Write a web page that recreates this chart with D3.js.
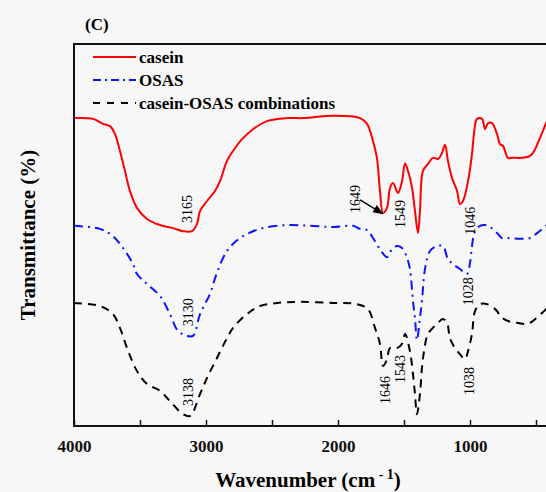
<!DOCTYPE html>
<html>
<head>
<meta charset="utf-8">
<script src="https://cdn.jsdelivr.net/npm/d3@7"></script>
<style>
  body { margin: 0; background: #f7f7f7; }
  svg { display: block; font-family: "Liberation Serif", "Times New Roman", serif; }
</style>
</head>
<body>
<script>
// FTIR spectra (wavenumber in cm-1, transmittance in arbitrary %)
const caseinWn = [4000,3856,3780,3727,3689,3652,3614,3576,3523,3447,3348,3250,3174,3106,3068,3045,2992,2932,2894,2841,2795,2727,2644,2538,2386,2265,2038,1833,1780,1735,1705,1682,1659,1629,1606,1583,1545,1515,1492,1470,1439,1417,1394,1379,1356,1318,1280,1242,1212,1189,1167,1136,1098,1076,1053,1015,985,970,947,909,886,864,833,795,773,750,712,674,545,470,424,379]
const caseinT = [80.6,80.4,79.1,78.5,76.4,72.0,66.8,61.5,57.1,54.2,52.6,51.8,51.0,51.0,52.9,56.3,58.9,61.5,64.1,69.4,72.0,75.1,77.7,79.8,80.6,80.6,81.2,80.6,79.1,74.6,70.2,61.5,55.8,57.1,62.3,63.6,61.0,64.1,68.8,66.8,62.3,56.3,50.5,56.3,66.8,68.6,70.2,69.9,71.5,73.6,69.4,64.9,61.5,58.1,58.9,64.1,71.2,76.4,80.4,80.4,77.7,79.3,79.3,76.4,73.8,73.3,70.2,70.2,70.7,75.4,79.3,82.5]

const osasWn = [4000,3803,3705,3629,3553,3523,3447,3348,3273,3212,3144,3098,3045,2970,2917,2841,2742,2591,2386,2212,2038,1886,1833,1780,1735,1682,1629,1591,1553,1515,1477,1455,1432,1417,1402,1379,1364,1341,1303,1250,1205,1167,1129,1076,1023,1000,985,962,924,886,848,795,758,712,621,545,492,424,379]
const osasT = [52.4,51.6,49.7,46.6,42.4,39.8,37.2,34.0,29.3,24.9,23.6,23.6,29.3,34.6,40.1,45.8,49.2,51.6,52.6,52.4,52.1,52.4,51.6,51.3,49.2,46.3,44.2,46.3,47.1,46.6,44.0,41.1,32.7,28.3,22.5,28.3,32.7,41.1,45.8,47.1,47.1,43.7,42.4,41.1,39.8,42.7,47.1,51.0,52.4,52.6,52.1,50.5,49.2,49.2,49.0,49.2,50.5,52.4,53.7]

const comboWn = [4000,3803,3705,3652,3598,3523,3447,3348,3273,3174,3121,3045,2992,2917,2841,2795,2689,2591,2462,2288,2038,1856,1773,1720,1682,1659,1629,1606,1553,1515,1492,1455,1432,1417,1402,1379,1364,1348,1318,1250,1205,1174,1152,1114,1076,1038,1015,985,962,924,871,795,773,712,644,568,523,455,424,379]
const comboT = [32.2,31.4,29.3,25.7,20.4,14.4,11.0,9.2,6.5,3.1,2.6,8.4,12.6,17.8,23.0,25.7,29.3,31.4,32.2,32.5,32.2,31.9,30.6,25.7,21.5,15.7,17.5,20.4,20.4,21.5,24.1,19.6,13.6,8.4,3.1,8.4,15.2,19.6,24.1,26.7,28.0,27.0,23.0,20.4,18.8,17.5,19.6,24.1,30.1,31.9,31.9,30.1,28.8,27.5,27.0,26.7,27.5,29.6,30.6,32.2]

const seriesNames = ["casein", "OSAS", "casein-OSAS combinations"]
const xTickLabels = [4000, 3000, 2000, 1000]
const xMinorTicks = [3500, 2500, 1500, 500]

// peak labels: text, wavenumber and transmittance where the label sits
const peakLabels = ["3165", "1649", "1549", "1046", "3130", "1028", "3138", "1646", "1543", "1038"]
const peakWn = [3144, 1871, 1530, 1000, 3136, 1015, 3136, 1644, 1530, 1008]
const peakT = [56.8, 59.4, 55.5, 53.7, 29.8, 35.3, 8.9, 9.4, 14.9, 11.8]

const W = 546, H = 492
const mLeft = 74, mTop = 44, mBottom = 426
const mRight = mLeft + 3600 * 0.132

const svg = d3.select("body").append("svg")
    .attr("width", W)
    .attr("height", H)

svg.append("defs").append("marker")
    .attr("id", "arrow")
    .attr("viewBox", "0 0 10 10")
    .attr("refX", 9).attr("refY", 5)
    .attr("markerWidth", 7).attr("markerHeight", 7)
    .attr("orient", "auto")
    .append("path")
    .attr("d", "M0,1 L10,5 L0,9 z")
    .attr("fill", "#000")

const x = d3.scaleLinear().domain([4000, 400]).range([mLeft, mRight])
const y = d3.scaleLinear().domain([0, 100]).range([mBottom, mTop])

const series = [
    { wn: caseinWn, t: caseinT, color: "#ff0000", dash: null },
    { wn: osasWn, t: osasT, color: "#0a14ff", dash: "9,5,2,5" },
    { wn: comboWn, t: comboT, color: "#000000", dash: "8,6" }
]

const line = d3.line()
    .x(d => x(d[0]))
    .y(d => y(d[1]))
    .curve(d3.curveCatmullRom.alpha(0.5))

series.forEach(s => {
    svg.append("path")
        .datum(s.wn.map((w, i) => [w, s.t[i]]))
        .attr("d", line)
        .attr("fill", "none")
        .attr("stroke", s.color)
        .attr("stroke-width", 2)
        .attr("stroke-dasharray", s.dash)
})

// frame: left, top and bottom
svg.append("path")
    .attr("d", "M" + mRight + "," + mTop + " H" + mLeft + " V" + mBottom + " H" + mRight)
    .attr("fill", "none")
    .attr("stroke", "#111")
    .attr("stroke-width", 2)

// x axis, ticks pointing inwards
const xAxis = svg.append("g")
    .attr("transform", "translate(0," + mBottom + ")")
    .call(d3.axisBottom(x).tickValues(xTickLabels).tickSizeInner(-6).tickSizeOuter(0).tickPadding(14).tickFormat(d3.format("d")))
xAxis.select(".domain").remove()
xAxis.selectAll("line").attr("stroke", "#111").attr("stroke-width", 1.5)
xAxis.selectAll("text")
    .attr("font-size", 17)
    .attr("font-weight", "bold")
    .attr("fill", "#111")
    .attr("font-family", "Liberation Serif, serif")

svg.append("g")
    .attr("transform", "translate(0," + mBottom + ")")
    .call(d3.axisBottom(x).tickValues(xMinorTicks).tickSizeInner(-6).tickSizeOuter(0).tickFormat(""))
    .call(g => g.select(".domain").remove())
    .selectAll("line").attr("stroke", "#111").attr("stroke-width", 1.5)

// axis titles
const xTitle = svg.append("text")
    .attr("x", 308).attr("y", 487)
    .attr("text-anchor", "middle")
    .attr("font-size", 21)
    .attr("font-weight", "bold")
xTitle.append("tspan").text("Wavenumber (cm")
xTitle.append("tspan").attr("dy", -8).attr("font-size", 14).text(" - 1")
xTitle.append("tspan").attr("dy", 8).text(")")

svg.append("text")
    .attr("transform", "translate(35," + (mTop + mBottom) / 2 + ") rotate(-90)")
    .attr("text-anchor", "middle")
    .attr("font-size", 21)
    .attr("font-weight", "bold")
    .text("Transmittance (%)")

svg.append("text")
    .attr("x", 85).attr("y", 30)
    .attr("font-size", 17)
    .attr("font-weight", "bold")
    .text("(C)")

// legend
const legend = svg.append("g")
series.forEach((s, i) => {
    const ly = 57 + i * 23
    legend.append("line")
        .attr("x1", 93).attr("x2", 136)
        .attr("y1", ly).attr("y2", ly)
        .attr("stroke", s.color)
        .attr("stroke-width", 2)
        .attr("stroke-dasharray", i == 1 ? "8,4,2,4" : s.dash ? "7,7" : null)
    legend.append("text")
        .attr("x", 139).attr("y", ly + 6)
        .attr("font-size", 17)
        .attr("font-weight", "bold")
        .text(seriesNames[i])
})

// peak labels, rotated
svg.selectAll(".peak")
    .data(peakLabels)
    .enter()
    .append("text")
    .attr("class", "peak")
    .attr("transform", (d, i) => "translate(" + (x(peakWn[i]) + 5) + "," + y(peakT[i]) + ") rotate(-90)")
    .attr("text-anchor", "middle")
    .attr("font-size", 14)
    .text(d => d)

// arrow for 1649
svg.append("line")
    .attr("x1", x(1833)).attr("y1", y(59.2))
    .attr("x2", x(1662)).attr("y2", y(55.6))
    .attr("stroke", "#000")
    .attr("stroke-width", 1.5)
    .attr("marker-end", "url(#arrow)")
</script>
</body>
</html>
